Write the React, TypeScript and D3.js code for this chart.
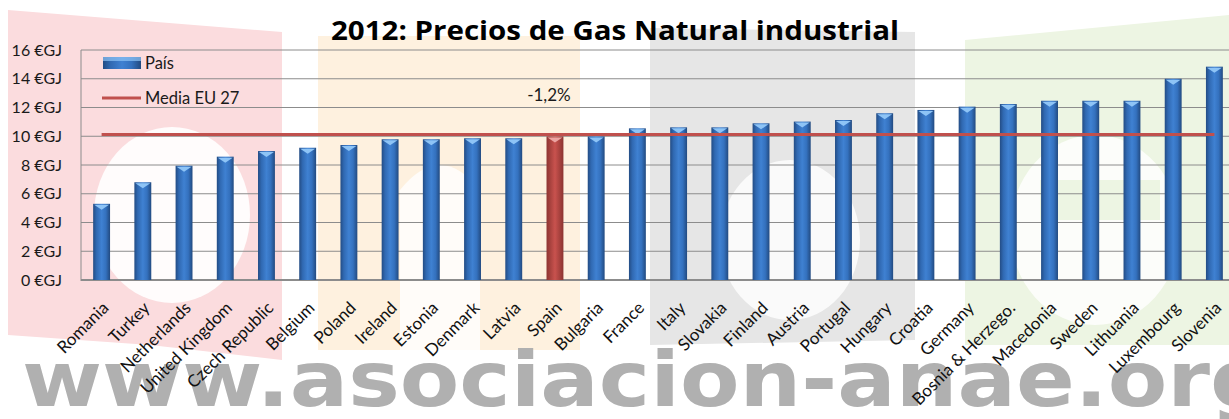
import { scaleBand, scaleLinear } from "d3";

const countries = [
  "Romania", "Turkey", "Netherlands", "United Kingdom", "Czech Republic", "Belgium",
  "Poland", "Ireland", "Estonia", "Denmark", "Latvia", "Spain", "Bulgaria", "France",
  "Italy", "Slovakia", "Finland", "Austria", "Portugal", "Hungary", "Croatia", "Germany",
  "Bosnia & Herzego.", "Macedonia", "Sweden", "Lithuania", "Luxembourg", "Slovenia",
];
const prices = [
  5.3, 6.8, 7.95, 8.58, 8.97, 9.2, 9.39, 9.79, 9.79, 9.86, 9.86, 9.99, 9.99, 10.55,
  10.62, 10.62, 10.9, 11.02, 11.13, 11.6, 11.83, 12.06, 12.24, 12.47, 12.47, 12.47, 14.0, 14.84,
];
const euAverage = 10.13;
const highlight = "Spain";
const highlightLabel = "-1,2%";
const yTicks = [0, 2, 4, 6, 8, 10, 12, 14, 16];

const W = 1229;
const H = 419;
const font = "Lato, 'Open Sans', sans-serif";

export default function App() {
  const x = scaleBand<string>()
    .domain(countries)
    .range([81, 1235])
    .paddingInner(0.59)
    .paddingOuter(0.295);
  const y = scaleLinear().domain([0, 16]).range([280, 50]);
  const bw = x.bandwidth();
  const first = x(countries[0])! + bw / 2;
  const last = x(countries[countries.length - 1])! + bw / 2;

  return (
    <svg width={W} height={H} style={{ position: "absolute", left: 0, top: 0, background: "#fff" }}>
      <defs>
        <linearGradient id="blue" x1="0" x2="1" y1="0" y2="0">
          <stop offset="0" stopColor="#234C84" />
          <stop offset="0.2" stopColor="#3069B2" />
          <stop offset="0.5" stopColor="#3F81D2" />
          <stop offset="0.75" stopColor="#3471BE" />
          <stop offset="1" stopColor="#224A80" />
        </linearGradient>
        <linearGradient id="red" x1="0" x2="1" y1="0" y2="0">
          <stop offset="0" stopColor="#8E3532" />
          <stop offset="0.5" stopColor="#C9524E" />
          <stop offset="1" stopColor="#8C3431" />
        </linearGradient>
      </defs>

      {/* marca de agua: letras de fondo */}
      <g>
        <path d="M8,10 L282,32 L282,360 L150,345 L8,335 Z" fill="#FBDCDE" />
        <ellipse cx={172} cy={215} rx={78} ry={88} fill="#fff" opacity={0.9} />
        <path d="M318,36 L580,36 L580,350 L318,350 Z" fill="#FEF1DF" />
        <path d="M400,350 L400,190 Q440,140 480,190 L480,350 Z" fill="#fff" opacity={0.8} />
        <path d="M650,28 L915,32 L915,340 L650,345 Z" fill="#E6E6E6" />
        <ellipse cx={790} cy={240} rx={70} ry={80} fill="#fff" opacity={0.8} />
        <path d="M965,40 L1229,15 L1229,345 L965,345 Z" fill="#EDF5E3" />
        <ellipse cx={1095} cy={230} rx={85} ry={95} fill="#fff" opacity={0.8} />
        <rect x={1040} y={180} width={120} height={40} fill="#EDF5E3" />
      </g>
      <text
        x={22}
        y={406}
        fontFamily="'DejaVu Sans', sans-serif"
        fontWeight="bold"
        fontSize={76}
        fill="#B0B0B0"
        textLength={1250}
        lengthAdjust="spacingAndGlyphs"
      >
        www.asociacion-anae.org
      </text>

      {/* título */}
      <text
        x={615}
        y={40}
        textAnchor="middle"
        fontFamily="'Open Sans', sans-serif"
        fontWeight="bold"
        fontSize={27}
        fill="#000"
        textLength={568}
        lengthAdjust="spacingAndGlyphs"
      >
        2012: Precios de Gas Natural industrial
      </text>

      {/* cuadrícula */}
      {yTicks.map((t) => (
        <g key={t}>
          <line x1={81} x2={W} y1={y(t)} y2={y(t)} stroke="#8C8C8C" strokeWidth={t === 0 ? 2 : 1} />
          <text x={62} y={y(t)} dy="0.35em" textAnchor="end" fontFamily={font} fontSize={16} fill="#1a1a1a">
            {t} €GJ
          </text>
        </g>
      ))}
      <line x1={81} x2={81} y1={50} y2={281} stroke="#8C8C8C" />

      {/* barras */}
      {countries.map((c, i) => {
        const bx = x(c)!;
        const top = y(prices[i]);
        const isHi = c === highlight;
        return (
          <g key={c}>
            <rect x={bx} y={top} width={bw} height={y(0) - top} fill={isHi ? "url(#red)" : "url(#blue)"} />
            <path
              d={`M${bx + 1},${top + 1} L${bx + bw - 1},${top + 1} L${bx + bw / 2},${top + 6} Z`}
              fill={isHi ? "#EBA3A1" : "#8EC4F6"}
            />
          </g>
        );
      })}

      {/* media EU27 */}
      <line x1={first} x2={last} y1={y(euAverage)} y2={y(euAverage)} stroke="#C0504D" strokeWidth={3} />
      <text
        x={x(highlight)! + bw / 2 - 6}
        y={101}
        textAnchor="middle"
        fontFamily={font}
        fontSize={17}
        fill="#1a1a1a"
      >
        {highlightLabel}
      </text>

      {/* leyenda */}
      <rect x={103} y={57} width={38} height={12} fill="url(#blue)" />
      <rect x={103} y={57} width={38} height={4} fill="#8EC4F6" opacity={0.7} />
      <text x={145} y={69} fontFamily={font} fontSize={16.5} fill="#1a1a1a">País</text>
      <line x1={102} x2={141} y1={98} y2={98} stroke="#C0504D" strokeWidth={3} />
      <text x={145} y={104} fontFamily={font} fontSize={16.5} fill="#1a1a1a">Media EU 27</text>

      {/* etiquetas eje X */}
      {countries.map((c) => (
        <text
          key={c}
          transform={`translate(${x(c)! + bw / 2 + 8},${309}) rotate(-45)`}
          textAnchor="end"
          fontFamily={font}
          fontSize={17}
          fill="#111"
        >
          {c}
        </text>
      ))}
    </svg>
  );
}
